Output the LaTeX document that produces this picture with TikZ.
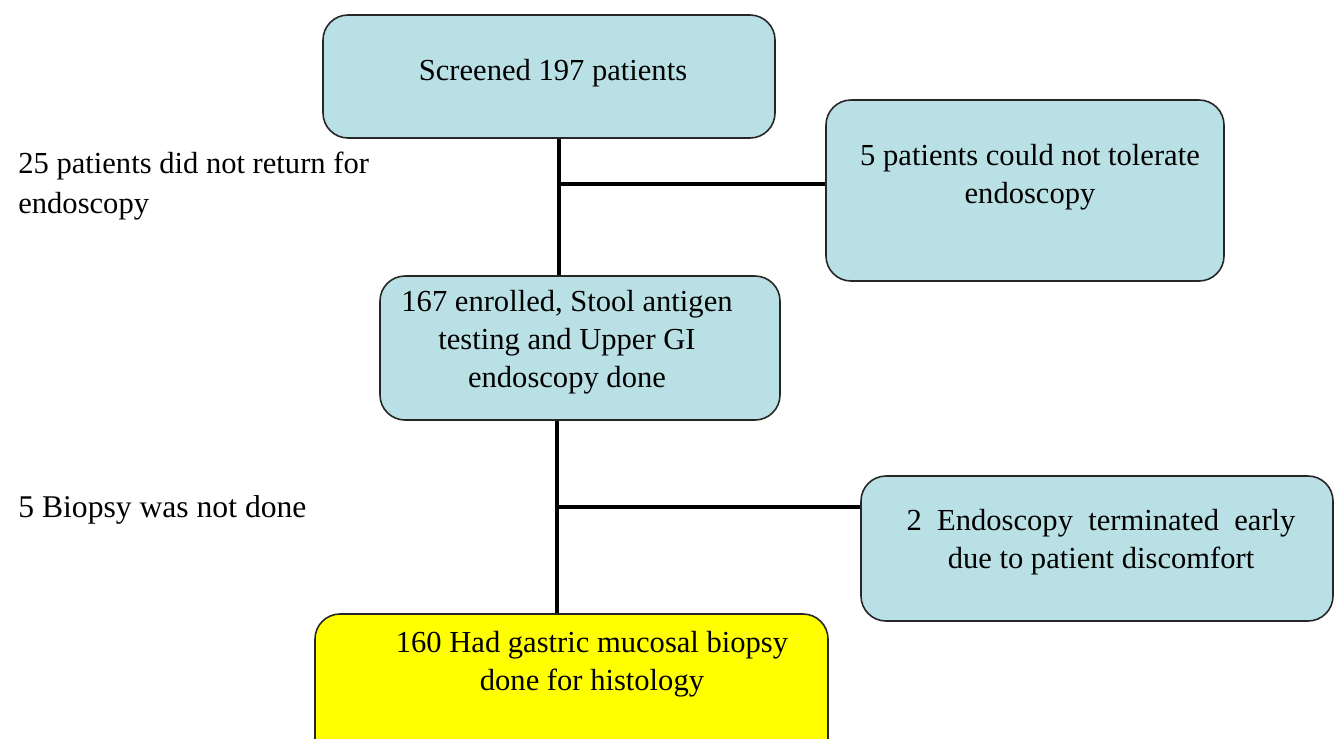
\documentclass[tikz,border=0pt]{standalone}
\usepackage{fontspec}
\setmainfont{Liberation Serif}
\definecolor{boxblue}{HTML}{B9E0E4}
\definecolor{boxyellow}{HTML}{FFFF00}

\begin{document}
\begin{tikzpicture}[x=0.02cm,y=-0.02cm,
  box/.style={draw=black!85, line width=0.9pt, rounded corners=0.5cm, fill=boxblue, inner sep=0pt},
  txt/.style={align=center, inner sep=0pt, font=\fontsize{17.4}{21.5}\selectfont},
  side/.style={align=left, inner sep=0pt, font=\fontsize{17.4}{22.5}\selectfont},
  link/.style={line width=2.4pt}]

% ---------- Rahmen (1334 x 738 px) ----------
\useasboundingbox (0,0) rectangle (1334,738);

\begin{scope}
  \clip (0,0) rectangle (1334,738);

  % ===================
  % Boxen
  % ===================
  \node[box, minimum width=452*0.02cm, minimum height=123*0.02cm] (screen) at (549,76.5) {};
  \node[box, minimum width=398*0.02cm, minimum height=181*0.02cm] (tolerate) at (1025,190.5) {};
  \node[box, minimum width=400*0.02cm, minimum height=144*0.02cm] (enrolled) at (580,348) {};
  \node[box, minimum width=472*0.02cm, minimum height=145*0.02cm] (early) at (1097,548.5) {};
  \node[box, fill=boxyellow, minimum width=513*0.02cm, minimum height=150*0.02cm] (biopsy) at (571.5,689) {};

  % Texte in den Boxen
  \node[txt, anchor=base] (screentxt) at (553,80) {Screened 197 patients};
  \node[txt, anchor=north] (toltxt) at (1030,144) {5 patients could not tolerate\\endoscopy};
  \node[txt, anchor=north] (enrtxt) at (567,290) {167 enrolled, Stool antigen\\testing and Upper GI\\endoscopy done};
  \node[txt, anchor=north] (earlytxt) at (1101,509) {2\ \ Endoscopy\ \ terminated\ \ early\\due to patient discomfort};
  \node[txt, anchor=north] (biotxt) at (592,631) {160 Had gastric mucosal biopsy\\done for histology};

  % Texte links
  \node[side, anchor=north west] (noreturn) at (18,152) {25 patients did not return for\\endoscopy};
  \node[side, anchor=base west, font=\fontsize{18}{22}\selectfont] (nobiopsy) at (18,517) {5 Biopsy was not done};

  % ===================
  % Verbindungen
  % ===================
  \coordinate (j1) at (559,184);
  \coordinate (j2) at (557,507);

  \draw[link] (j1 |- screen.south) -- (j1 |- enrolled.north);
  \draw[link] (j1) -- (j1 -| tolerate.west);

  \draw[link] (j2 |- enrolled.south) -- (j2 |- biopsy.north);
  \draw[link] (j2) -- (j2 -| early.west);
\end{scope}

\end{tikzpicture}
\end{document}
